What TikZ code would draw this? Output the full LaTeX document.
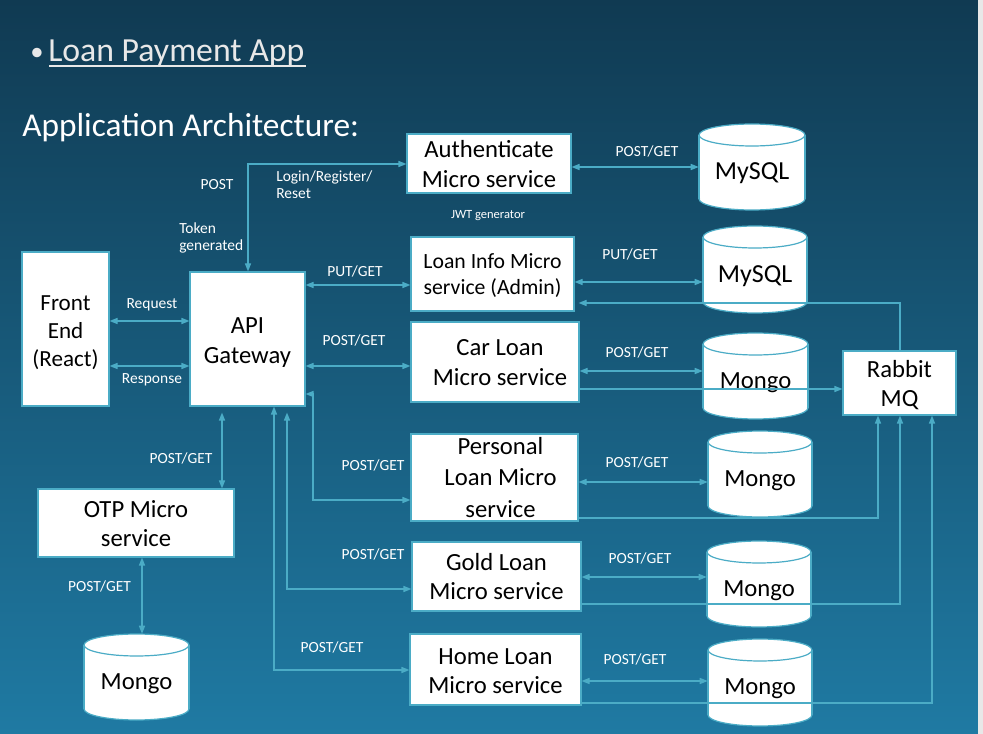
\documentclass[tikz,border=0pt]{standalone}
\usepackage{fontspec}
\setmainfont{Carlito}
\usetikzlibrary{arrows.meta,calc}
\definecolor{tealline}{HTML}{4BACC6}
\definecolor{bgtop}{RGB}{16,58,82}
\definecolor{bgmid}{RGB}{21,80,108}
\definecolor{bgbot}{RGB}{31,122,163}
\definecolor{titlegray}{RGB}{232,232,232}
% #1 text style, #2 name, #3-#6 corners (px), #7 text, #8 dx, #9 dy
\newcommand\mybox[9]{%
  \pgfmathsetmacro\bcx{(#3+#5)/2}%
  \pgfmathsetmacro\bcy{(#4+#6)/2}%
  \pgfmathsetmacro\bw{(#5-#3)*0.75}%
  \pgfmathsetmacro\bh{(#6-#4)*0.75}%
  \node[box,minimum width=\bw pt,minimum height=\bh pt] (#2) at (\bcx,\bcy) {};
  \node[boxtext,#1] (#2t) at ($(#2.center)+(#8,#9)$) {#7};}
\newcommand\mycyl[7]{%
  \pgfmathsetmacro\ccx{(#3+#5)/2}%
  \pgfmathsetmacro\crx{(#5-#3)/2}%
  \pgfmathsetmacro\cyt{#4+11}%
  \pgfmathsetmacro\cyb{#6-11}%
  \pgfmathsetmacro\cw{(#5-#3)*0.75}%
  \pgfmathsetmacro\ch{(#6-#4)*0.75}%
  \pgfmathsetmacro\cmy{(#4+#6)/2}%
  \pgfmathsetmacro\ccy{(#4+#6)/2+6.5}%
  \fill[white] (#3,\cyt) rectangle (#5,\cyb);
  \fill[white] (\ccx,\cyb) ellipse [x radius=\crx, y radius=11];
  \fill[white] (\ccx,\cyt) ellipse [x radius=\crx, y radius=11];
  \begin{scope}
    \clip (#3-3,\cyb) rectangle (#5+3,#6+3);
    \draw[cylline] (\ccx,\cyb) ellipse [x radius=\crx, y radius=11];
  \end{scope}
  \draw[cylline] (\ccx,\cyt) ellipse [x radius=\crx, y radius=11];
  \draw[cylline] (#3,\cyt) -- (#3,\cyb) (#5,\cyt) -- (#5,\cyb);
  \node[inner sep=0pt,minimum width=\cw pt,minimum height=\ch pt] (#2) at (\ccx,\cmy) {};
  \node[cyltext,#1] (#2t) at (\ccx,\ccy) {#7};}
\begin{document}
\begin{tikzpicture}[x=0.75pt,y=-0.75pt,
  >={Triangle[length=6pt,width=4.6pt]},
  box/.style={draw=tealline,fill=white,line width=0.9pt,inner sep=0pt},
  boxtext/.style={inner sep=0pt,align=center,text=black,font=\fontsize{18.5}{22}\selectfont},
  cylline/.style={draw=tealline,line width=0.9pt},
  cyltext/.style={inner sep=0pt,text=black,font=\fontsize{18.5}{22}\selectfont},
  lbl/.style={text=white,inner sep=0pt,font=\fontsize{11.6}{12.75}\selectfont},
  lblc/.style={lbl,text height=7.5pt,text depth=0pt},
  conn/.style={draw=tealline,line width=0.9pt}]
\useasboundingbox (0,0) rectangle (983,734);
\shade[top color=bgtop,middle color=bgmid,bottom color=bgbot] (0,0) rectangle (983,734);
\fill[gray!18] (978,0) rectangle (983,734);

% titles
\node[anchor=base,inner sep=0pt,text=titlegray,font=\fontsize{20}{24}\selectfont] (bullet) at (37,61) {•};
\node[anchor=base west,inner sep=0pt,text=titlegray,font=\fontsize{25.3}{30}\selectfont] (title) at (48,62) {Loan Payment App};
\draw[titlegray,line width=1.5pt] ($(title.base west)+(1,4.5)$) -- ($(title.base east)+(1,4.5)$);
\node[anchor=base west,inner sep=0pt,text=white,font=\fontsize{25}{30}\selectfont] (arch) at (22,137) {Application Architecture:};

% boxes
\mybox{font=\fontsize{17.3}{21}\selectfont}{fe}{22}{252}{109}{406}{Front\\End\\(React)}{0}{3.5}
\mybox{}{api}{190}{272}{305}{406}{API\\Gateway}{0}{3.5}
\mybox{}{auth}{407}{134}{571}{193}{Authenticate\\Micro service}{0}{0.5}
\mybox{font=\fontsize{16.3}{19.5}\selectfont}{info}{411}{237}{574}{311}{Loan Info Micro\\service (Admin)}{0}{2}
\mybox{}{car}{411}{322}{579}{402}{Car Loan\\Micro service}{5}{0.5}
\mybox{font=\fontsize{18.5}{23.3}\selectfont}{pers}{411}{434}{578}{521}{Personal\\Loan Micro\\service}{6}{0}
\mybox{}{gold}{412}{542}{581}{611}{Gold Loan\\Micro service}{0}{0}
\mybox{}{home}{410}{634}{581}{705}{Home Loan\\Micro service}{0}{2}
\mybox{}{otp}{38}{489}{234}{557}{OTP Micro\\service}{0}{0.5}
\mybox{}{rabbit}{843}{351}{956}{415}{Rabbit\\MQ}{0}{2}

% databases
\mycyl{font=\fontsize{19.5}{22}\selectfont}{my1}{699}{124}{805}{210}{MySQL}
\mycyl{font=\fontsize{19.5}{22}\selectfont}{my2}{703}{226}{807}{313}{MySQL}
\mycyl{}{mg1}{703}{333}{808}{419}{Mongo}
\mycyl{}{mg2}{708}{431}{812}{517}{Mongo}
\mycyl{}{mg3}{707}{541}{811}{627}{Mongo}
\mycyl{}{mg4}{708}{639}{812}{726}{Mongo}
\mycyl{}{mg5}{84}{634}{189}{720}{Mongo}

% right connectors
\draw[conn,<->] (auth.east |- 0,167) -- (my1.west |- 0,167);
\draw[conn,<->] (info.east |- 0,282) -- (my2.west |- 0,282);
\draw[conn,->,shorten >=3pt] (rabbit.north -| 900,0) |- (info.east |- 0,303);
\draw[conn,<->] (car.east |- 0,371) -- (mg1.west |- 0,371);
\draw[conn,->] (car.east |- 0,389) -- (rabbit.west |- 0,389);
\draw[conn,<->] (pers.east |- 0,482) -- (mg2.west |- 0,482);
\draw[conn,->] (pers.east |- 0,518) -| (rabbit.south -| 878,0);
\draw[conn,<->] (gold.east |- 0,577) -- (mg3.west |- 0,577);
\draw[conn,->] (gold.east |- 0,604) -| (rabbit.south -| 900,0);
\draw[conn,<->] (home.east |- 0,681) -- (mg4.west |- 0,681);
\draw[conn,->] (home.east |- 0,703) -| (rabbit.south -| 932,0);

% left connectors
\draw[conn,<->] (api.north -| 248,0) |- (auth.west |- 0,164);
\draw[conn,<->] (api.east |- 0,285) -- (info.west |- 0,285);
\draw[conn,<->] (api.east |- 0,366) -- (car.west |- 0,366);
\draw[conn,<->] (api.east |- 0,394) -| (313,500) -- (pers.west |- 0,500);
\draw[conn,<->,shorten <=4.5pt] (api.south -| 287,0) |- (gold.west |- 0,589);
\draw[conn,<->] (api.south -| 274,0) |- (home.west |- 0,670);
\draw[conn,<->] (fe.east |- 0,321) -- (api.west |- 0,321);
\draw[conn,<->] (fe.east |- 0,366) -- (api.west |- 0,366);
\draw[conn,<->,shorten <=4.5pt] (api.south -| 222,0) -- (otp.north -| 222,0);
\draw[conn,<->] (otp.south -| 142,0) -- (mg5.north -| 142,0);

% labels
\node[lblc] (l1) at (647,152) {POST/GET};
\node[lblc] (l2) at (630,255) {PUT/GET};
\node[lblc] (l3) at (637,353) {POST/GET};
\node[lblc] (l4) at (637,463) {POST/GET};
\node[lblc] (l5) at (640,558) {POST/GET};
\node[lblc] (l6) at (635,659) {POST/GET};
\node[lblc] (l7) at (217,185) {POST};
\node[lbl,align=left,anchor=west] (l8) at (276,184.5) {Login/Register/\\Reset};
\node[lbl,align=left,anchor=west] (l9) at (179,237.5) {Token\\generated};
\node[lblc,font=\fontsize{9.4}{11}\selectfont,text height=6pt] (l10) at (488,215) {JWT generator};
\node[lblc] (l11) at (355,272) {PUT/GET};
\node[lblc] (l12) at (354,341) {POST/GET};
\node[lblc] (l13) at (373,466) {POST/GET};
\node[lblc] (l14) at (373,555) {POST/GET};
\node[lblc] (l15) at (332,647) {POST/GET};
\node[lblc] (l16) at (152,304) {Request};
\node[lblc] (l17) at (152,379) {Response};
\node[lblc] (l18) at (181,459) {POST/GET};
\node[lblc] (l19) at (99.5,586) {POST/GET};
\end{tikzpicture}
\end{document}
